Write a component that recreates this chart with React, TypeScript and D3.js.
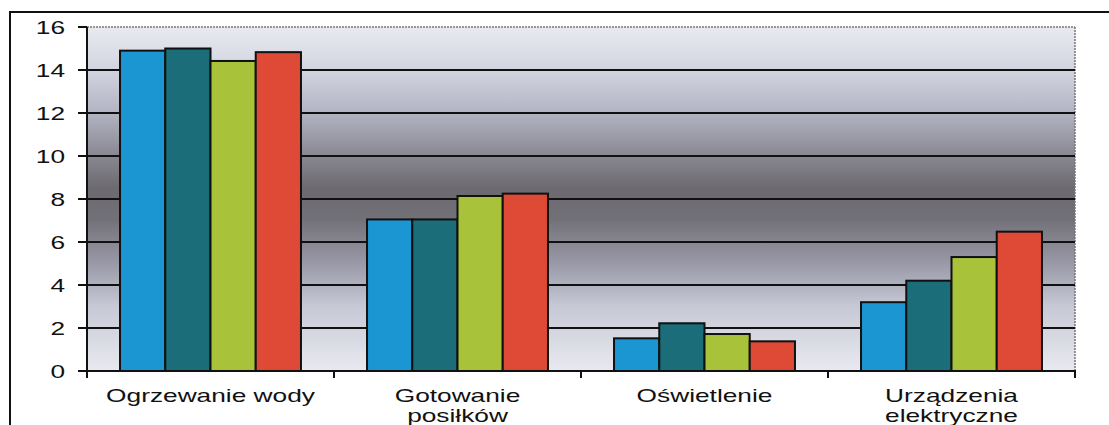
import React, { useEffect } from "react";
import * as d3 from "d3";

const categories = ["Ogrzewanie wody", "Gotowanie\nposiłków", "Oświetlenie", "Urządzenia\nelektryczne"];
const seriesNames = ["S1", "S2", "S3", "S4"];
const series1 = [14.9, 7.05, 1.52, 3.2];
const series2 = [15.0, 7.05, 2.22, 4.2];
const series3 = [14.42, 8.14, 1.72, 5.3];
const series4 = [14.83, 8.25, 1.38, 6.48];
const seriesValues = [series1, series2, series3, series4];
const colors = ["#1b96d3", "#1b6d79", "#a8c23a", "#de4a36"];
const yTicks = [0, 2, 4, 6, 8, 10, 12, 14, 16];

const W = 1109;
const H = 425;
const left = 87;
const right = 1075;
const top = 27;
const bottom = 371;
const stretch = 1.46;

export default function App() {
  useEffect(() => {
    document.body.style.margin = "0";
  }, []);

  const x = d3.scaleBand<string>().domain(categories).range([left, right]).padding(0);
  const xi = d3
    .scaleBand<string>()
    .domain(seriesNames)
    .range([0, x.bandwidth()])
    .paddingInner(0)
    .paddingOuter(0.73);
  const y = d3.scaleLinear().domain([0, 16]).range([bottom, top]);

  const font = "'Liberation Sans', Arial, sans-serif";

  return (
    <svg width={W} height={H} style={{ display: "block", background: "#fff" }}>
      <defs>
        <linearGradient id="bg" x1="0" y1="0" x2="0" y2="1">
          <stop offset="0" stopColor="#e9eaf0" />
          <stop offset="0.12" stopColor="#d3d5e1" />
          <stop offset="0.25" stopColor="#b3b4c3" />
          <stop offset="0.37" stopColor="#8a8893" />
          <stop offset="0.47" stopColor="#6c6a6f" />
          <stop offset="0.56" stopColor="#737178" />
          <stop offset="0.69" stopColor="#9a9aa9" />
          <stop offset="0.81" stopColor="#c6c8d5" />
          <stop offset="1" stopColor="#e9eaf0" />
        </linearGradient>
      </defs>
      {/* outer frame */}
      <rect x={10} y={12} width={1110} height={440} fill="none" stroke="#111" strokeWidth={2} />
      {/* plot area */}
      <rect x={left} y={top} width={right - left} height={bottom - top} fill="url(#bg)" />
      <line x1={left} x2={right} y1={top} y2={top} stroke="#777" strokeWidth={1.5} strokeDasharray="2,1" />
      <line x1={right} x2={right} y1={top} y2={bottom} stroke="#777" strokeWidth={1.5} strokeDasharray="2,1" />
      {/* gridlines */}
      {yTicks
        .filter((t) => t > 0 && t < 16)
        .map((t) => (
          <line key={"g" + t} x1={left} x2={right} y1={y(t)} y2={y(t)} stroke="#111" strokeWidth={2} />
        ))}
      {/* bars */}
      {categories.map((c, ci) => (
        <g key={c}>
          {seriesNames.map((s, si) => {
            const v = seriesValues[si][ci];
            return (
              <rect
                key={s}
                x={(x(c) as number) + (xi(s) as number)}
                y={y(v)}
                width={xi.bandwidth()}
                height={y(0) - y(v)}
                fill={colors[si]}
                stroke="#111"
                strokeWidth={2}
              />
            );
          })}
        </g>
      ))}
      {/* axes */}
      <line x1={left} x2={left} y1={top} y2={bottom + 1} stroke="#111" strokeWidth={2} />
      <line x1={left - 1} x2={right + 1} y1={bottom} y2={bottom} stroke="#111" strokeWidth={2} />
      {yTicks.map((t) => (
        <g key={"t" + t}>
          <line x1={left - 9} x2={left} y1={y(t)} y2={y(t)} stroke="#111" strokeWidth={2} />
          <text
            transform={`translate(${65},${y(t) + 6.5}) scale(${stretch},1)`}
            textAnchor="end"
            fontFamily={font}
            fontSize={18}
            fill="#111"
          >
            {t}
          </text>
        </g>
      ))}
      {[...categories.map((c) => x(c) as number), right].map((px, i) => (
        <line key={"xt" + i} x1={px} x2={px} y1={bottom} y2={bottom + 7} stroke="#111" strokeWidth={2} />
      ))}
      {categories.map((c) => {
        const cx = (x(c) as number) + x.bandwidth() / 2;
        const lines = c.split("\n");
        return (
          <text
            key={"l" + c}
            transform={`translate(${cx},0) scale(${stretch},1)`}
            textAnchor="middle"
            fontFamily={font}
            fontSize={18}
            fill="#111"
          >
            {lines.map((ln, li) => (
              <tspan key={li} x={0} y={402 + li * 20}>
                {ln}
              </tspan>
            ))}
          </text>
        );
      })}
    </svg>
  );
}
